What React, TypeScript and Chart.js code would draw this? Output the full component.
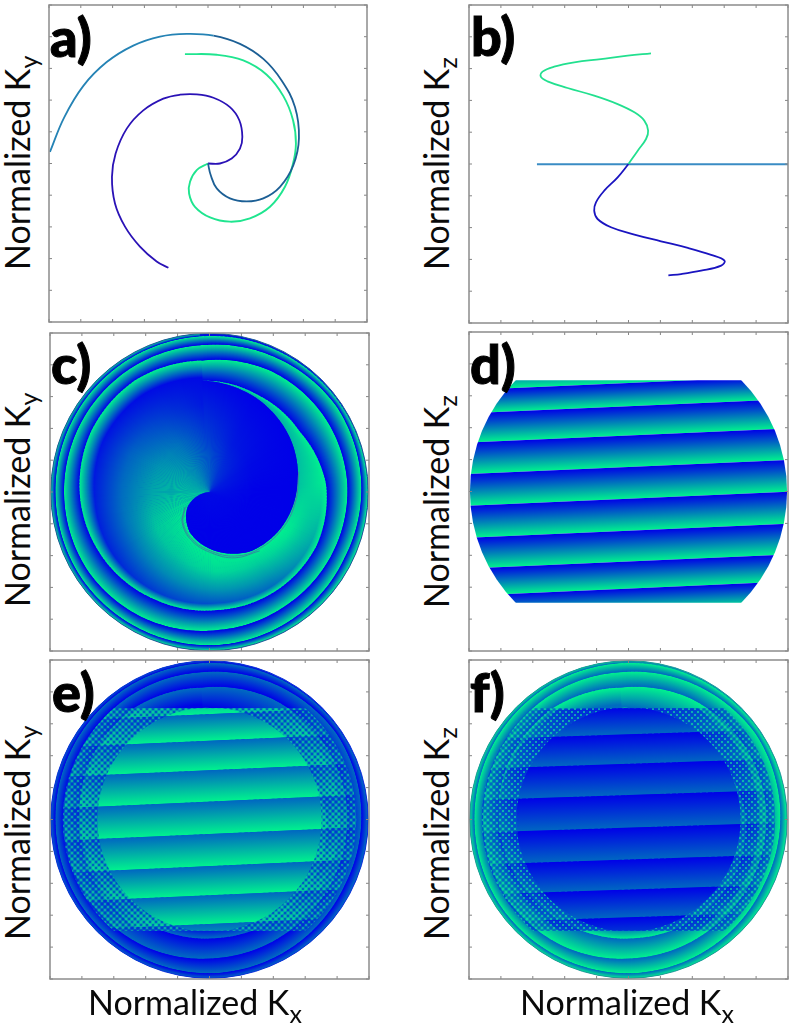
import React, { useEffect, useRef } from "react";
import { Chart, registerables } from "chart.js";

Chart.register(...registerables);

type Pair = [number, number];

// ---------- values (normalized k-space, -1..1) ----------
const TICK_VALUES = [-1, -0.8, -0.6, -0.4, -0.2, 0, 0.2, 0.4, 0.6, 0.8, 1];

const A_TEAL: Pair[] = [[0, 0], [0.017, -0.073], [0.055, -0.157], [0.138, -0.22], [0.243, -0.239], [0.348, -0.22], [0.453, -0.147], [0.537, -0.01], [0.572, 0.16], [0.547, 0.356], [0.463, 0.524], [0.348, 0.66], [0.201, 0.755], [0.034, 0.807], [-0.134, 0.818], [-0.302, 0.801], [-0.47, 0.744], [-0.637, 0.64], [-0.784, 0.49], [-0.905, 0.29], [-0.994, 0.073]];
const A_GREEN: Pair[] = [[0, 0], [-0.071, -0.042], [-0.113, -0.115], [-0.119, -0.189], [-0.082, -0.273], [0.013, -0.34], [0.138, -0.367], [0.264, -0.346], [0.39, -0.273], [0.484, -0.147], [0.535, 0], [0.553, 0.126], [0.535, 0.273], [0.474, 0.425], [0.369, 0.56], [0.222, 0.65], [0.055, 0.686], [-0.145, 0.69]];
const A_BLUE: Pair[] = [[0, 0], [0.075, 0], [0.149, 0.031], [0.201, 0.094], [0.216, 0.168], [0.197, 0.273], [0.138, 0.356], [0.034, 0.415], [-0.071, 0.436], [-0.176, 0.434], [-0.281, 0.409], [-0.407, 0.335], [-0.511, 0.22], [-0.581, 0.063], [-0.604, -0.084], [-0.585, -0.252], [-0.522, -0.398], [-0.428, -0.524], [-0.323, -0.618], [-0.249, -0.658]];

const B_GREEN: Pair[] = [[0, 0], [0.058, 0.084], [0.11, 0.157], [0.123, 0.21], [0.099, 0.273], [0.037, 0.325], [-0.068, 0.377], [-0.215, 0.43], [-0.382, 0.478], [-0.508, 0.52], [-0.55, 0.549], [-0.539, 0.581], [-0.466, 0.612], [-0.34, 0.639], [-0.173, 0.66], [-0.005, 0.681], [0.141, 0.696]];
const B_BLUE: Pair[] = [[0, 0], [-0.068, -0.084], [-0.152, -0.168], [-0.204, -0.241], [-0.215, -0.294], [-0.194, -0.346], [-0.11, -0.398], [0.037, -0.444], [0.204, -0.486], [0.372, -0.528], [0.518, -0.572], [0.602, -0.608], [0.581, -0.639], [0.455, -0.671], [0.33, -0.692], [0.25, -0.7]];
const B_TEAL: Pair[] = [[-0.574, -0.002], [1, -0.002]];

// Radius of the spiral colour wrap, every 30 degrees clockwise from the top.
const ARM_RADIUS = [0.702, 0.681, 0.681, 0.732, 0.751, 0.748, 0.744, 0.757, 0.784, 0.811, 0.834, 0.843, 0.828, 0.853, 0.862, 0.866, 0.862, 0.86, 0.87, 0.893, 0.91, 0.912, 0.916, 0.922, 0.925, 0.943, 0.962, 0.954, 0.943, 0.954, 0.964, 0.966, 0.969, 0.966, 0.971, 0.977, 0.981, 0.985, 0.989, 0.992, 0.994, 0.995, 0.996, 0.996, 0.997, 0.997, 0.998, 0.998, 0.998];

// Colour level (0 blue, 1 green) against radius along spokes, inside the first wrap.
const SPOKE_ANGLES = [0, 30, 60, 90, 120, 150, 180, 210, 240, 270, 300, 330, 360];
const SWIRL_SPOKES: Pair[][] = [
  [[0.702, 0.7], [0.702, 0.75], [0.702, 0.8], [0.702, 0.9], [0.702, 1]],
  [[0.66, 0.7], [0.665, 0.75], [0.67, 0.8], [0.675, 0.9], [0.681, 1]],
  [[0.608, 0.75], [0.63, 0.8], [0.65, 0.85], [0.665, 0.92], [0.681, 1]],
  [[0.551, 0.8], [0.6, 0.85], [0.65, 0.9], [0.7, 0.95], [0.732, 1]],
  [[0.503, 1], [0.56, 0.95], [0.64, 0.8], [0.71, 0.7], [0.751, 1]],
  [[0.451, 1], [0.54, 0.85], [0.63, 0.65], [0.71, 0.45], [0.748, 1]],
  [[0.367, 1], [0.5, 0.9], [0.62, 0.6], [0.7, 0.35], [0.744, 1]],
  [[0.281, 1], [0.45, 0.82], [0.58, 0.58], [0.71, 0.25], [0.757, 1]],
  [[0.164, 1], [0.4, 0.82], [0.55, 0.52], [0.72, 0.15], [0.784, 1]],
  [[0, 0.95], [0.35, 0.7], [0.55, 0.45], [0.72, 0.12], [0.811, 1]],
  [[0, 0.85], [0.35, 0.62], [0.55, 0.4], [0.74, 0.08], [0.834, 1]],
  [[0, 0.72], [0.35, 0.48], [0.55, 0.26], [0.74, 0.05], [0.843, 1]],
  [[0, 0.55], [0.35, 0.26], [0.55, 0.1], [0.72, 0.04], [0.828, 1]],
];
const LOBE_SPOKES: Pair[][] = [
  [[0, 0.55], [0.35, 0.26], [0.702, 0.03]],
  [[0, 0.3], [0.33, 0.1], [0.66, 0]],
  [[0, 0.15], [0.3, 0.04], [0.608, 0]],
  [[0, 0.08], [0.28, 0], [0.551, 0]],
  [[0, 0.02], [0.25, 0], [0.503, 0]],
  [[0, 0.02], [0.22, 0], [0.451, 0]],
  [[0, 0.02], [0.18, 0], [0.367, 0]],
  [[0, 0.02], [0.14, 0], [0.281, 0]],
  [[0, 0.02], [0.08, 0], [0.164, 0]],
  [[0, 0.02], [0, 0], [0, 0]],
];
const LOBE_EDGE: Pair[] = [[0.553, 0.126], [0.532, -0.063], [0.449, -0.231], [0.302, -0.356], [0.155, -0.398], [0.008, -0.367], [-0.107, -0.294], [-0.164, -0.189], [-0.149, -0.094]];

// Left and right heights of the sharp stripe edges, at x = -1 and x = +1.
const D_EDGES: Pair[] = [[0.796, 0.884], [0.636, 0.724], [0.49, 0.578], [0.307, 0.395], [0.11, 0.198], [-0.089, -0.001], [-0.29, -0.202], [-0.483, -0.395], [-0.653, -0.565], [-0.8, -0.712]];
const E_EDGES: Pair[] = [[0.788, 0.878], [0.616, 0.706], [0.449, 0.539], [0.264, 0.354], [0.067, 0.157], [-0.136, -0.046], [-0.337, -0.247], [-0.52, -0.43], [-0.7, -0.61], [-0.868, -0.778]];
const F_EDGES: Pair[] = [[0.84, 0.906], [0.672, 0.738], [0.501, 0.567], [0.316, 0.382], [0.121, 0.187], [-0.084, -0.018], [-0.284, -0.218], [-0.472, -0.406], [-0.646, -0.58], [-0.816, -0.75]];

const KX = "x";
const AXIS_WORD = "Normalized K";

// ---------- layout and styling ----------
const PAD = 3;
const ANGLE_SHIFT = -4;
const PANELS = [
  { id: "a", kind: "lines", box: [49, 5, 367, 322] },
  { id: "b", kind: "lines", box: [468.5, 4.5, 787, 322] },
  { id: "c", kind: "swirl", box: [49.5, 333, 368, 651], base: 0.08 },
  { id: "d", kind: "stripes", box: [468.5, 332, 787.5, 651] },
  { id: "e", kind: "mixed", box: [49.5, 660, 368, 978.5], base: 0.1 },
  { id: "f", kind: "mixed", box: [469, 660, 787.5, 978.5], base: 0.6 },
];

const shade = (t: number) => {
  const v = Math.max(0, Math.min(1, t));
  return `rgb(0,${Math.round(242 * v)},${Math.round(232 - 90 * v)})`;
};
const lerp = (a: number, b: number, f: number) => a + (b - a) * f;
const toXY = (deg: number, r: number) => ({
  x: r * Math.sin((deg * Math.PI) / 180),
  y: r * Math.cos((deg * Math.PI) / 180),
});

type Level = (t: number) => number;

function wedge(a0: number, a1: number, s0: Pair[], s1: Pair[], level: Level) {
  const pts = [...s0.map((p) => ({ ...toXY(a0, p[0]), t: level(p[1]) })), ...s1.map((p) => ({ ...toXY(a1, p[0]), t: level(p[1]) }))];
  return { type: "scatter", bandKind: "polar", th0: a0, th1: a1, data: pts, pointRadius: 0, showLine: false };
}

function polarDatasets(level: Level) {
  const out: any[] = [];
  for (let i = 0; i + 12 < ARM_RADIUS.length - 1; i++) {
    const a0 = i * 30 + ANGLE_SHIFT;
    const a1 = (i + 1) * 30 + ANGLE_SHIFT;
    out.push(
      wedge(a0, a1,
        [[ARM_RADIUS[i], 0], [ARM_RADIUS[i + 12], 1]],
        [[ARM_RADIUS[i + 1], 0], [ARM_RADIUS[i + 13], 1]],
        level)
    );
  }
  for (let i = 0; i + 1 < SPOKE_ANGLES.length; i++) {
    out.push(wedge(SPOKE_ANGLES[i] + ANGLE_SHIFT, SPOKE_ANGLES[i + 1] + ANGLE_SHIFT, SWIRL_SPOKES[i], SWIRL_SPOKES[i + 1], level));
  }
  for (let i = 0; i + 1 < LOBE_SPOKES.length; i++) {
    out.push(wedge(SPOKE_ANGLES[i] + ANGLE_SHIFT, SPOKE_ANGLES[i + 1] + ANGLE_SHIFT, LOBE_SPOKES[i], LOBE_SPOKES[i + 1], level));
  }
  return out;
}

function stripeDatasets(edges: Pair[], tTop: number, tBottom: number) {
  const out: any[] = [];
  for (let i = 0; i + 1 < edges.length; i++) {
    out.push({
      type: "scatter",
      bandKind: "stripe",
      pointRadius: 0,
      showLine: false,
      data: [
        { x: -1, y: edges[i][0], t: tTop },
        { x: 1, y: edges[i][1], t: tTop },
        { x: 1, y: edges[i + 1][1], t: tBottom },
        { x: -1, y: edges[i + 1][0], t: tBottom },
      ],
    });
  }
  return out;
}

const lineSet = (pts: Pair[], color: any, width: number, segment?: any) => ({
  type: "scatter",
  showLine: true,
  tension: 0.4,
  pointRadius: 0,
  borderColor: color,
  borderWidth: width,
  segment,
  data: pts.map((p) => ({ x: p[0], y: p[1] })),
});

function datasetsFor(id: string) {
  if (id === "a")
    return [
      lineSet(A_TEAL, "#1c5f95", 1.8, { borderColor: (c: any) => (c.p0DataIndex > 12 ? "#2583b5" : "#1c5f95") }),
      lineSet(A_GREEN, "#1fe58f", 1.9),
      lineSet(A_BLUE, "#2a12b6", 1.8),
    ];
  if (id === "b")
    return [lineSet(B_GREEN, "#22e08f", 1.8), lineSet(B_BLUE, "#1a14c0", 1.8), lineSet(B_TEAL, "#3a8cc4", 2)];
  if (id === "c")
    return [
      ...polarDatasets((t) => t),
      lineSet(LOBE_EDGE.map((p) => [p[0] * 1.012, p[1] * 1.012] as Pair), "#3f7ea6", 0.9),
      lineSet(LOBE_EDGE.slice(3).map((p) => [p[0] * 1.04, p[1] * 1.04] as Pair), "#2f86a0", 0.9),
    ];
  if (id === "d") return stripeDatasets(D_EDGES, 0, 1);
  if (id === "e") return [...polarDatasets((t) => t * 0.45), ...stripeDatasets(E_EDGES, 0.42, 1)];
  return [...polarDatasets((t) => 0.42 + 0.58 * t), ...stripeDatasets(F_EDGES, 0, 0.42)];
}

function makePainter(panel: any) {
  return {
    id: "bandPainter",
    beforeDatasetsDraw(chart: any) {
      const ctx: CanvasRenderingContext2D = chart.ctx;
      const xs = chart.scales.x;
      const ys = chart.scales.y;
      const cx = xs.getPixelForValue(0);
      const cy = ys.getPixelForValue(0);
      const px = (v: number) => xs.getPixelForValue(v) - cx;

      const clipDisc = (r: number) => {
        ctx.beginPath();
        ctx.arc(cx, cy, px(r), 0, Math.PI * 2);
        ctx.clip();
      };
      const clipRows = (yLimit: number) => {
        const top = ys.getPixelForValue(yLimit);
        const bottom = ys.getPixelForValue(-yLimit);
        ctx.beginPath();
        ctx.rect(chart.chartArea.left, top, chart.chartArea.width, bottom - top);
        ctx.clip();
      };

      const paintPolar = (ds: any, pts: any[]) => {
        const n = ds.data.length / 2;
        const rad = pts.map((p) => Math.hypot(p.x - cx, p.y - cy));
        const steps = Math.max(1, Math.ceil(Math.abs(ds.th1 - ds.th0) / 1.5));
        const at = (deg: number, r: number): Pair => [
          cx + r * Math.sin((deg * Math.PI) / 180),
          cy - r * Math.cos((deg * Math.PI) / 180),
        ];
        for (let s = 0; s < steps; s++) {
          const f0 = s / steps;
          const f1 = (s + 1) / steps;
          const fm = (s + 0.5) / steps;
          const a0 = lerp(ds.th0, ds.th1, f0);
          const a1 = lerp(ds.th0, ds.th1, f1) + 0.5;
          const stops: Pair[] = [];
          for (let j = 0; j < n; j++) {
            stops.push([lerp(rad[j], rad[j + n], fm), lerp(ds.data[j].t, ds.data[j + n].t, fm)]);
          }
          const rMin = stops[0][0];
          const rMax = stops[n - 1][0];
          let fill: any = shade(stops[n - 1][1]);
          if (rMax - rMin > 0.5) {
            const g = ctx.createRadialGradient(cx, cy, rMin, cx, cy, rMax);
            stops.forEach((st) => g.addColorStop(Math.max(0, Math.min(1, (st[0] - rMin) / (rMax - rMin))), shade(st[1])));
            fill = g;
          }
          const p0 = at(a0, lerp(rad[0], rad[n], f0));
          const p1 = at(a1, lerp(rad[0], rad[n], f1));
          const p2 = at(a1, lerp(rad[n - 1], rad[2 * n - 1], f1));
          const p3 = at(a0, lerp(rad[n - 1], rad[2 * n - 1], f0));
          ctx.beginPath();
          ctx.moveTo(p0[0], p0[1]);
          ctx.lineTo(p1[0], p1[1]);
          ctx.lineTo(p2[0], p2[1]);
          ctx.lineTo(p3[0], p3[1]);
          ctx.closePath();
          ctx.fillStyle = fill;
          ctx.fill();
        }
      };

      const paintStripe = (ds: any, pts: any[]) => {
        const [p0, p1, p2, p3] = pts;
        const mx0 = (p0.x + p1.x) / 2;
        const my0 = (p0.y + p1.y) / 2;
        const mx1 = (p2.x + p3.x) / 2;
        const my1 = (p2.y + p3.y) / 2;
        const len = Math.hypot(p1.x - p0.x, p1.y - p0.y);
        const nx = -(p1.y - p0.y) / len;
        const ny = (p1.x - p0.x) / len;
        const d = (mx1 - mx0) * nx + (my1 - my0) * ny;
        const g = ctx.createLinearGradient(mx0, my0, mx0 + nx * d, my0 + ny * d);
        g.addColorStop(0, shade(ds.data[0].t));
        g.addColorStop(1, shade(ds.data[2].t));
        ctx.beginPath();
        ctx.moveTo(p0.x, p0.y);
        ctx.lineTo(p1.x, p1.y);
        ctx.lineTo(p2.x, p2.y);
        ctx.lineTo(p3.x, p3.y);
        ctx.closePath();
        ctx.fillStyle = g;
        ctx.fill();
      };

      const eachBand = (kind: string, fn: (ds: any, pts: any[]) => void) => {
        chart.data.datasets.forEach((ds: any, i: number) => {
          if (ds.bandKind === kind) fn(ds, chart.getDatasetMeta(i).data);
        });
      };

      const baseDisc = () => {
        ctx.fillStyle = shade(panel.base);
        ctx.fillRect(chart.chartArea.left, chart.chartArea.top, chart.chartArea.width, chart.chartArea.height);
      };
      const rim = (color: string) => {
        ctx.beginPath();
        ctx.arc(cx, cy, px(0.995), 0, Math.PI * 2);
        ctx.strokeStyle = color;
        ctx.lineWidth = 1;
        ctx.stroke();
      };

      if (panel.kind === "swirl") {
        ctx.save();
        clipDisc(0.995);
        baseDisc();
        eachBand("polar", paintPolar);
        ctx.restore();
        rim("#1f5f96");
      }
      if (panel.kind === "stripes") {
        ctx.save();
        clipDisc(0.994);
        clipRows(0.697);
        eachBand("stripe", paintStripe);
        ctx.restore();
      }
      if (panel.kind === "mixed") {
        const isE = panel.id === "e";
        ctx.save();
        clipDisc(0.995);
        baseDisc();
        eachBand("polar", paintPolar);
        ctx.restore();
        // the half-toned ring where stripes and rings interleave
        ctx.save();
        clipRows(0.698);
        for (const [r, alpha] of [[0.92, 0.4], [0.82, 0.5]] as Pair[]) {
          ctx.save();
          clipDisc(r);
          ctx.globalAlpha = alpha;
          eachBand("stripe", paintStripe);
          ctx.restore();
        }
        clipDisc(0.92);
        const tile = document.createElement("canvas");
        tile.width = 6;
        tile.height = 6;
        const t = tile.getContext("2d") as CanvasRenderingContext2D;
        t.fillStyle = isE ? "rgba(0,30,215,0.55)" : "rgba(0,60,215,0.45)";
        t.fillRect(0, 0, 2, 2);
        t.fillRect(3, 3, 2, 2);
        t.fillStyle = isE ? "rgba(20,235,150,0.5)" : "rgba(20,240,160,0.6)";
        t.fillRect(3, 0, 2, 2);
        t.fillRect(0, 3, 2, 2);
        ctx.fillStyle = ctx.createPattern(tile, "repeat") as CanvasPattern;
        ctx.fillRect(chart.chartArea.left, chart.chartArea.top, chart.chartArea.width, chart.chartArea.height);
        ctx.restore();
        // the clean central disc
        ctx.save();
        clipRows(0.698);
        clipDisc(0.703);
        eachBand("stripe", paintStripe);
        ctx.restore();
        rim(isE ? "#0a30d8" : "#1c9a98");
      }
    },
    afterDraw(chart: any) {
      const ctx: CanvasRenderingContext2D = chart.ctx;
      const { left, right, top, bottom } = chart.chartArea;
      ctx.save();
      ctx.strokeStyle = "#858585";
      ctx.lineWidth = 1;
      TICK_VALUES.forEach((v) => {
        const x = chart.scales.x.getPixelForValue(v);
        const y = chart.scales.y.getPixelForValue(v);
        ctx.beginPath();
        ctx.moveTo(x, top);
        ctx.lineTo(x, top + 3);
        ctx.moveTo(x, bottom);
        ctx.lineTo(x, bottom - 3);
        ctx.moveTo(left, y);
        ctx.lineTo(left + 3, y);
        ctx.moveTo(right, y);
        ctx.lineTo(right - 3, y);
        ctx.stroke();
      });
      ctx.lineWidth = 1.5;
      ctx.strokeStyle = "#8c8c8c";
      ctx.strokeRect(left, top, right - left, bottom - top);
      ctx.restore();
    },
  };
}

function Panel({ panel }: { panel: any }) {
  const ref = useRef<HTMLCanvasElement | null>(null);
  const [l, t, r, b] = panel.box;
  useEffect(() => {
    const axis = {
      type: "linear",
      min: -1,
      max: 1,
      ticks: { display: false, stepSize: 0.2 },
      grid: { display: false, drawTicks: false },
      border: { display: false },
    };
    const chart = new Chart(ref.current as HTMLCanvasElement, {
      type: "scatter",
      data: { datasets: datasetsFor(panel.id) as any },
      plugins: [makePainter(panel)],
      options: {
        animation: false,
        responsive: false,
        events: [],
        layout: { padding: PAD },
        plugins: { legend: { display: false }, tooltip: { enabled: false } },
        scales: { x: axis, y: axis },
      } as any,
    });
    return () => chart.destroy();
  }, []);
  return (
    <canvas
      ref={ref}
      width={Math.round(r - l + 2 * PAD)}
      height={Math.round(b - t + 2 * PAD)}
      style={{ position: "absolute", left: l - PAD, top: t - PAD, filter: "blur(0.35px)" }}
    />
  );
}

const textBase: React.CSSProperties = {
  position: "absolute",
  fontFamily: "Lato, sans-serif",
  color: "#0a0a0a",
  whiteSpace: "nowrap",
  lineHeight: 1,
};

function AxisText({ sub, style }: { sub: string; style: React.CSSProperties }) {
  return (
    <div style={{ ...textBase, fontSize: 34, ...style }}>
      {AXIS_WORD}
      <span style={{ fontSize: 25, position: "relative", top: 8 }}>{sub}</span>
    </div>
  );
}

const Y_LABELS = [
  { sub: "y", left: 0, bottom: 270 },
  { sub: "z", left: 419, bottom: 270 },
  { sub: "y", left: 0, bottom: 607 },
  { sub: "z", left: 419, bottom: 608 },
  { sub: "y", left: 0, bottom: 940 },
  { sub: "z", left: 419, bottom: 940 },
];
const LETTERS = [
  { s: "a)", left: 50, base: 58 },
  { s: "b)", left: 471, base: 57 },
  { s: "c)", left: 51, base: 385 },
  { s: "d)", left: 470, base: 385 },
  { s: "e)", left: 52, base: 713 },
  { s: "f)", left: 470, base: 713 },
];

export default function App() {
  return (
    <div style={{ position: "absolute", left: 0, top: 0, width: 800, height: 1029, background: "#fff", overflow: "hidden" }}>
      {PANELS.map((p) => (
        <Panel key={p.id} panel={p} />
      ))}
      {Y_LABELS.map((l, i) => (
        <AxisText key={i} sub={l.sub} style={{ left: l.left, top: l.bottom, transformOrigin: "0 0", transform: "rotate(-90deg)" }} />
      ))}
      <AxisText sub={KX} style={{ left: 88, top: 985 }} />
      <AxisText sub={KX} style={{ left: 520, top: 985 }} />
      {LETTERS.map((l) => (
        <div key={l.s} style={{ ...textBase, fontSize: 54, fontWeight: 900, left: l.left, top: l.base - 48, WebkitTextStroke: "1px #000", color: "#000" }}>
          {l.s}
        </div>
      ))}
    </div>
  );
}
